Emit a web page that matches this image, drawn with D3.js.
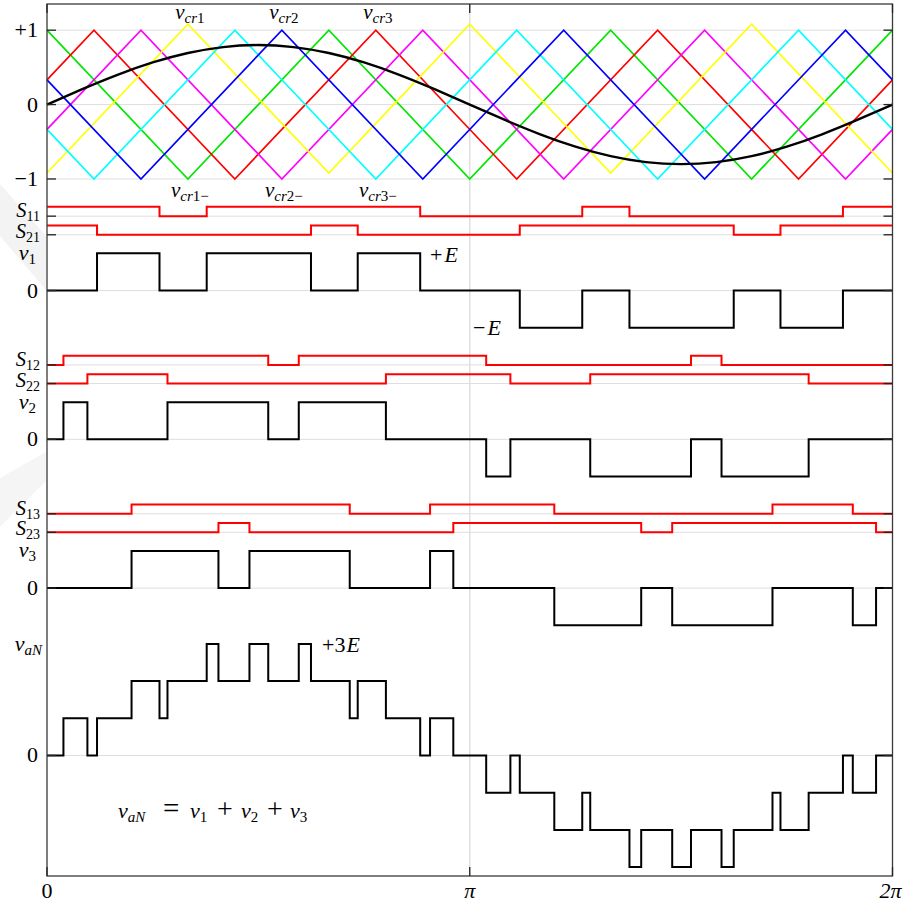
<!DOCTYPE html>
<html>
<head>
<meta charset="utf-8">
<script src="https://cdn.jsdelivr.net/npm/d3@7/dist/d3.min.js"></script>
<style>
  html, body { margin: 0; padding: 0; background: #fff; }
</style>
</head>
<body>
<svg id="chart" width="909" height="905"></svg>
<script>
// ---- data (angles in degrees over one fundamental period) ----
const thetaTicks = [0, 180, 360];
const thetaTickLabels = ["0", "π", "2π"];

// modulating wave, sampled every 15°
const refAngles = [0, 15, 30, 45, 60, 75, 90, 105, 120, 135, 150, 165, 180,
                   195, 210, 225, 240, 255, 270, 285, 300, 315, 330, 345, 360];
const refValues = [0, 0.207, 0.400, 0.566, 0.693, 0.773, 0.800, 0.773, 0.693, 0.566, 0.400, 0.207, 0,
                   -0.207, -0.400, -0.566, -0.693, -0.773, -0.800, -0.773, -0.693, -0.566, -0.400, -0.207, 0];

// triangular carriers: vertices [angle, value]
const carrierVcr1m = [[0, 1], [60, -1], [120, 1], [180, -1], [240, 1], [300, -1], [360, 1]];
const carrierVcr3 = [[0, 0.333], [20, 1], [80, -1], [140, 1], [200, -1], [260, 1], [320, -1], [360, 0.333]];
const carrierVcr2m = [[0, -0.333], [40, 1], [100, -1], [160, 1], [220, -1], [280, 1], [340, -1], [360, -0.333]];
const carrierVcr1 = [[0, -0.92], [60, 1.08], [120, -0.92], [180, 1.08], [240, -0.92], [300, 1.08], [360, -0.92]];
const carrierVcr3m = [[0, -0.333], [20, -1], [80, 1], [140, -1], [200, 1], [260, -1], [320, 1], [360, -0.333]];
const carrierVcr2 = [[0, 0.333], [40, -1], [100, 1], [160, -1], [220, 1], [280, -1], [340, 1], [360, 0.333]];

// gate signals: [angle, state] at every switching instant
const s11 = [[0, 1], [47.9, 0], [68.0, 1], [158.9, 0], [227.9, 1], [248.0, 0], [338.9, 1]];
const s21 = [[0, 1], [21.3, 0], [112.4, 1], [132.3, 0], [201.3, 1], [292.4, 0], [312.3, 1]];
const s12 = [[0, 0], [7.0, 1], [94.2, 0], [107.2, 1], [187.0, 0], [274.2, 1], [287.2, 0]];
const s22 = [[0, 0], [17.2, 1], [51.3, 0], [144.3, 1], [197.3, 0], [231.3, 1], [324.3, 0]];
const s13 = [[0, 0], [36.0, 1], [128.9, 0], [163.1, 1], [216.0, 0], [308.9, 1], [343.1, 0]];
const s23 = [[0, 0], [73.0, 1], [86.2, 0], [173.0, 1], [253.0, 0], [266.2, 1], [353.0, 0]];

// ---- layout ----
const x = d3.scaleLinear().domain([0, 360]).range([47, 892.5]);
const y = d3.scaleLinear().domain([-10.37, 1.352]).range([876, 4]);

const cellBase = [-1.5, -3.5, -5.5];   // low level of S1k
const gateAmp = 0.125, gateGap = 0.25, cellZero = 1.0, E = 0.5;
const outZero = -8.75;
const FONT = "Liberation Serif";

const svg = d3.select("#chart");

// faint backdrop shapes in the left margin
svg.append("polygon").attr("points", "0,184 0,236 46,290 46,236").attr("fill", "#f3f3f3");
svg.append("polygon").attr("points", "0,478 0,527 46,481 46,452").attr("fill", "#f5f5f5");

// ---- grid ----
const gridLevels = [1, 0, -1];
cellBase.forEach(b => gridLevels.push(b, b - gateGap, b - cellZero));
gridLevels.push(outZero);

const grid = svg.append("g").attr("stroke", "#dedede").attr("stroke-width", 1);
grid.selectAll("line.h").data(gridLevels).join("line")
  .attr("x1", x(0)).attr("x2", x(360))
  .attr("y1", d => y(d)).attr("y2", d => y(d));
grid.append("line")
  .attr("x1", x(180)).attr("x2", x(180))
  .attr("y1", y.range()[1]).attr("y2", y.range()[0])
  .attr("stroke-width", 1.4);

// ---- carriers and modulating wave ----
const line = d3.line().x(d => x(d[0])).y(d => y(d[1]));
const carriers = [
  { pts: carrierVcr1m, color: "#00e600" },
  { pts: carrierVcr3, color: "#ff0000" },
  { pts: carrierVcr2m, color: "#ff00ff" },
  { pts: carrierVcr1, color: "#ffff00" },
  { pts: carrierVcr3m, color: "#00ffff" },
  { pts: carrierVcr2, color: "#0000ff" }
];
svg.append("g").selectAll("path").data(carriers).join("path")
  .attr("d", d => line(d.pts))
  .attr("fill", "none").attr("stroke", d => d.color).attr("stroke-width", 1.7);

const refPts = refAngles.map((a, i) => [a, refValues[i]]);
svg.append("path")
  .attr("d", d3.line().x(d => x(d[0])).y(d => y(d[1])).curve(d3.curveNatural)(refPts))
  .attr("fill", "none").attr("stroke", "#000").attr("stroke-width", 2.4);

// ---- switching waveforms ----
function stateAt(sig, a) {
  let s = sig[0][1];
  for (const [t, v] of sig) { if (t <= a) s = v; }
  return s;
}
function combine(sigs, weights) {
  const angles = Array.from(new Set(sigs.flatMap(s => s.map(p => p[0])))).sort((a, b) => a - b);
  return angles.map(a => [a, d3.sum(sigs, (s, i) => weights[i] * stateAt(s, a))]);
}
const step = d3.line().x(d => x(d[0])).y(d => y(d[1])).curve(d3.curveStepAfter);
function drawStep(sig, level, scale, color) {
  const pts = sig.map(p => [p[0], level + scale * p[1]]);
  pts.push([360, pts[pts.length - 1][1]]);
  svg.append("path").attr("d", step(pts))
    .attr("fill", "none").attr("stroke", color).attr("stroke-width", 2)
    .attr("stroke-linejoin", "miter");
}

const gatePairs = [[s11, s21], [s12, s22], [s13, s23]];
const cellOutputs = gatePairs.map(([a, b]) => combine([a, b], [1, -1]));
const phaseOutput = combine([s11, s21, s12, s22, s13, s23], [1, -1, 1, -1, 1, -1]);

gatePairs.forEach(([a, b], k) => {
  const base = cellBase[k];
  drawStep(a, base, gateAmp, "#ff0000");
  drawStep(b, base - gateGap, gateAmp, "#ff0000");
  drawStep(cellOutputs[k], base - cellZero, E, "#000");
});
drawStep(phaseOutput, outZero, E, "#000");

// ---- axis frame and ticks ----
const x0 = x(0), x1 = x(360), yTop = y.range()[1], yBot = y.range()[0];
svg.append("rect").attr("x", x0).attr("y", yTop).attr("width", x1 - x0).attr("height", yBot - yTop)
  .attr("fill", "none").attr("stroke", "#3a3a3a").attr("stroke-width", 1.3);

const ticks = svg.append("g").attr("stroke", "#222").attr("stroke-width", 1.3);
const tickLen = 9;
ticks.selectAll("line.l").data(gridLevels).join("line")
  .attr("x1", x0).attr("x2", x0 + tickLen).attr("y1", d => y(d)).attr("y2", d => y(d));
ticks.selectAll("line.r").data(gridLevels).join("line").attr("class", "r")
  .attr("x1", x1 - tickLen).attr("x2", x1).attr("y1", d => y(d)).attr("y2", d => y(d));
ticks.selectAll("line.t").data(thetaTicks).join("line").attr("class", "t")
  .attr("x1", d => x(d)).attr("x2", d => x(d)).attr("y1", yTop).attr("y2", yTop + tickLen);
ticks.selectAll("line.b").data(thetaTicks).join("line").attr("class", "b")
  .attr("x1", d => x(d)).attr("x2", d => x(d)).attr("y1", yBot).attr("y2", yBot - tickLen);

// ---- text ----
// parts: [text, style, dx, absX, size]; style: i = italic, n = upright, si / sn = subscript
function mathText(px, py, parts, anchor, fs) {
  const size = fs || 22, sub = Math.round(size * 0.7), subDy = Math.round(size * 0.18);
  const t = svg.append("text").attr("x", px).attr("y", py)
    .attr("text-anchor", anchor || "start")
    .attr("font-family", FONT).attr("font-size", size).attr("fill", "#000");
  let shift = 0;
  parts.forEach(([txt, st, dx, ax, ownSize]) => {
    const isSub = st[0] === "s";
    const want = isSub ? subDy : 0;
    const ts = t.append("tspan").text(txt)
      .attr("font-family", FONT)
      .attr("font-style", st.endsWith("i") ? "italic" : "normal")
      .attr("font-size", ownSize || (isSub ? sub : size));
    if (want !== shift) ts.attr("dy", want - shift);
    if (dx) ts.attr("dx", dx);
    if (ax !== undefined) ts.attr("x", ax);
    shift = want;
  });
  return t;
}

// left value labels
[[1, "+1"], [0, "0"], [-1, "−1"]].forEach(([v, s]) =>
  mathText(38, y(v) + 7, [[s, "n"]], "end"));

// carrier names over their peaks / troughs
const carrierNames = [["1", 60], ["2", 100], ["3", 140]];
carrierNames.forEach(([k, a]) => {
  mathText(x(a) + 2, 19, [["v", "i"], ["cr", "si"], [k, "sn"]], "middle", 21);
  mathText(x(a) + 2, 197, [["v", "i"], ["cr", "si"], [k + "−", "sn"]], "middle", 21);
});

// row labels for each cell
cellBase.forEach((b, k) => {
  const n = String(k + 1);
  mathText(40, y(b) + 1, [["S", "i"], ["1" + n, "sn"]], "end", 20.5);
  mathText(40, y(b - gateGap) + 3, [["S", "i"], ["2" + n, "sn"]], "end", 20.5);
  mathText(36, y(b - gateGap) + 25, [["v", "i"], [n, "sn"]], "end");
  mathText(38, y(b - cellZero) + 7, [["0", "n"]], "end");
});
mathText(42, 651, [["v", "i"], ["aN", "si"]], "end");
mathText(38, y(outZero) + 7, [["0", "n"]], "end");

// level annotations
mathText(430, 262, [["+", "n"], ["E", "i", 2]]);
mathText(473, 335, [["−", "n"], ["E", "i", 2]]);
mathText(322, 652, [["+3", "n"], ["E", "i", 1]]);
mathText(118, 818, [["v", "i"], ["aN", "si"], ["=", "n", 0, 163, 29], ["v", "i", 0, 190], ["1", "sn"],
  ["+", "n", 0, 217, 28], ["v", "i", 0, 241], ["2", "sn"], ["+", "n", 0, 267, 28], ["v", "i", 0, 290], ["3", "sn"]]);

// angle tick labels
thetaTicks.forEach((a, i) =>
  mathText(x(a) + (i === 2 ? -2 : 0), 898, [[thetaTickLabels[i], i === 0 ? "n" : "i"]], "middle"));
</script>
</body>
</html>
